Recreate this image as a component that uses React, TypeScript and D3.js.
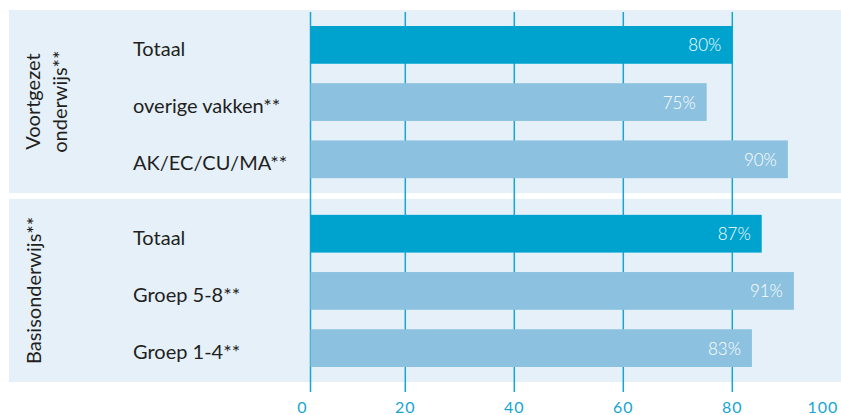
import * as d3 from 'd3'
import { useEffect } from 'react'

const WIDTH = 841
const HEIGHT = 415
const PANEL_LEFT = 9
const PLOT_TOP = 10
const PLOT_BOTTOM = 382
const GRID_TOP = 12
const GRID_BOTTOM = 392
const AXIS_X = 310.5
const LABEL_X = 133
const FONT = 'Lato, "Open Sans", sans-serif'

const COLOR_TOTAL = '#00a3ce'
const COLOR_OTHER = '#8cc2df'
const COLOR_BG = '#e5f0f9'
const COLOR_GRID = '#17a5d2'
const COLOR_TEXT = '#231f20'

// groups, top to bottom
const groupNames = ['Voortgezet onderwijs**', 'Basisonderwijs**']
const groupLines = [['Voortgezet', 'onderwijs**'], ['Basisonderwijs**']]

// rows per group
const voCategories = ['Totaal', 'overige vakken**', 'AK/EC/CU/MA**']
const voValues = [80, 75.3, 90.2]
const voLabels = ['80%', '75%', '90%']

const poCategories = ['Totaal', 'Groep 5-8**', 'Groep 1-4**']
const poValues = [85.4, 91.3, 83.6]
const poLabels = ['87%', '91%', '83%']

const xTicks = [0, 20, 40, 60, 80, 100]

const groupRows = [
  { categories: voCategories, values: voValues, labels: voLabels },
  { categories: poCategories, values: poValues, labels: poLabels },
]

export default function App() {
  useEffect(() => {
    document.body.style.margin = '0'
  }, [])

  const x = d3.scaleLinear().domain([0, 100]).range([296.3, 841.3])
  const yGroup = d3.scaleBand<string>()
    .domain(groupNames)
    .range([PLOT_TOP, PLOT_BOTTOM])
    .paddingInner(0.03)

  return (
    <svg width={WIDTH} height={HEIGHT} style={{ display: 'block', fontFamily: FONT }}>
      {/* panel backgrounds */}
      {groupNames.map(g => (
        <rect key={g} x={PANEL_LEFT} y={yGroup(g)} width={WIDTH - PANEL_LEFT}
          height={yGroup.bandwidth()} fill={COLOR_BG} />
      ))}

      {/* grid lines */}
      {xTicks.filter(t => t < 100).map(t => {
        const gx = t === 0 ? AXIS_X : x(t)
        return (
          <line key={t} x1={gx} x2={gx} y1={GRID_TOP} y2={GRID_BOTTOM}
            stroke={COLOR_GRID} strokeWidth={1.5} />
        )
      })}

      {groupNames.map((g, gi) => {
        const top = yGroup(g) as number
        const rows = groupRows[gi]
        const y = d3.scaleBand<string>()
          .domain(rows.categories.map((_, i) => String(i)))
          .range([top + 16, top + yGroup.bandwidth() - 15])
          .paddingInner(0.34)
        const cy = top + yGroup.bandwidth() / 2
        const lines = groupLines[gi]
        return (
          <g key={g}>
            {lines.map((line, li) => (
              <text key={line}
                transform={`translate(${(lines.length === 1 ? 41 : 40) + li * 27},${cy}) rotate(-90)`}
                textAnchor="middle" fontSize={20} fill={COLOR_TEXT}>
                {line}
              </text>
            ))}
            {rows.categories.map((c, i) => {
              const by = y(String(i)) as number
              const bh = y.bandwidth()
              return (
                <g key={c}>
                  <rect x={AXIS_X} y={by} width={x(rows.values[i]) - AXIS_X} height={bh}
                    fill={c === 'Totaal' ? COLOR_TOTAL : COLOR_OTHER} />
                  <text x={LABEL_X} y={by + bh / 2 + 3} dominantBaseline="central"
                    fontSize={20} fill={COLOR_TEXT}>{c}</text>
                  <text x={x(rows.values[i]) - 11} y={by + bh / 2} dominantBaseline="central"
                    textAnchor="end" fontSize={17} fontWeight={300} fill="#ffffff">{rows.labels[i]}</text>
                </g>
              )
            })}
          </g>
        )
      })}

      {/* x tick labels */}
      {xTicks.map(t => (
        <text key={t}
          x={t === 0 ? x(t) + 1 : t === 100 ? x(t) - 3 : x(t)}
          y={413}
          textAnchor={t === 0 ? 'start' : t === 100 ? 'end' : 'middle'}
          fontSize={16} letterSpacing={1} fill={COLOR_GRID}>
          {t}
        </text>
      ))}
    </svg>
  )
}
